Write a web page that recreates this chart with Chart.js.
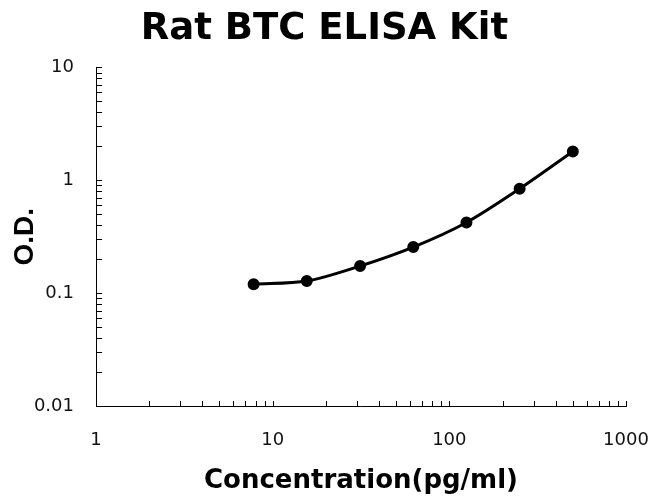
<!DOCTYPE html>
<html>
<head>
<meta charset="utf-8">
<script src="https://cdn.jsdelivr.net/npm/chart.js@4/dist/chart.umd.min.js"></script>
<style>
html,body{margin:0;padding:0;background:#fff;}
#wrap{width:649px;height:497px;}
</style>
</head>
<body>
<div id="wrap"><canvas id="c" width="649" height="497"></canvas></div>
<script>
const titleText = "Rat BTC ELISA Kit";
const xTitle = "Concentration(pg/ml)";
const yTitle = "O.D.";
const concentrations = [7.8, 15.6, 31.25, 62.5, 125, 250, 500];
const odValues = [0.120, 0.128, 0.174, 0.256, 0.423, 0.842, 1.80];
const xTickLabels = [1, 10, 100, 1000];
const yTickLabels = [0.01, 0.1, 1, 10];

const WIDE = "'DejaVu Sans', Verdana, sans-serif";
const ARIAL = "'Liberation Sans', Arial, sans-serif";

function minorValues(labels){
  const out = [];
  for (let i = 0; i < labels.length; i++) {
    out.push(labels[i]);
    if (i < labels.length - 1) {
      for (let m = 2; m <= 9; m++) out.push(+(labels[i] * m).toPrecision(6));
    }
  }
  return out;
}

const innerTicks = {
  id: 'innerTicks',
  afterDraw(chart){
    const ctx = chart.ctx;
    const xs = chart.scales.x, ys = chart.scales.y;
    const area = chart.chartArea;
    ctx.save();
    ctx.strokeStyle = '#000';
    ctx.lineWidth = 1;
    ctx.beginPath();
    minorValues(xTickLabels).forEach(v => {
      const px = Math.round(xs.getPixelForValue(v)) + 0.5;
      ctx.moveTo(px, area.bottom);
      ctx.lineTo(px, area.bottom - 5);
    });
    minorValues(yTickLabels).forEach(v => {
      const py = Math.round(ys.getPixelForValue(v)) + 0.5;
      ctx.moveTo(area.left, py);
      ctx.lineTo(area.left + 6, py);
    });
    ctx.stroke();
    ctx.restore();
  }
};

new Chart(document.getElementById('c'), {
  type: 'line',
  data: {
    datasets: [{
      data: concentrations.map((c, i) => ({x: c, y: odValues[i]})),
      borderColor: '#000',
      backgroundColor: '#000',
      borderWidth: 3,
      pointRadius: 4.5,
      pointHoverRadius: 4.5,
      tension: 0.3,
      fill: false
    }]
  },
  options: {
    responsive: false,
    animation: false,
    layout: {padding: {left: 0, right: 0, top: 0, bottom: 0}},
    plugins: {
      legend: {display: false},
      tooltip: {enabled: false},
      title: {
        display: true,
        text: titleText,
        color: '#000',
        font: {family: WIDE, size: 37, weight: 'bold', lineHeight: 1.2},
        padding: {top: 7, bottom: 16}
      }
    },
    scales: {
      x: {
        type: 'logarithmic',
        min: 1, max: 1000,
        afterBuildTicks(scale){ scale.ticks = xTickLabels.map(v => ({value: v})); },
        afterFit(scale){ scale.height = 91; scale.paddingRight = 23; scale.paddingLeft = 0; },
        grid: {display: true, drawOnChartArea: false, drawTicks: false},
        border: {display: true, color: '#000', width: 1},
        ticks: {
          color: '#111', padding: 24, maxRotation: 0, autoSkip: false,
          font: {family: WIDE, size: 18},
          callback: v => String(v)
        },
        title: {
          display: true, text: xTitle, color: '#000',
          font: {family: WIDE, size: 26, weight: 'bold'},
          padding: {top: 0, bottom: 0}
        }
      },
      y: {
        type: 'logarithmic',
        min: 0.01, max: 10,
        afterBuildTicks(scale){ scale.ticks = yTickLabels.map(v => ({value: v})); },
        afterFit(scale){ scale.width = 96; },
        grid: {display: true, drawOnChartArea: false, drawTicks: false},
        border: {display: true, color: '#000', width: 1},
        ticks: {
          color: '#111', padding: 22, autoSkip: false,
          font: {family: WIDE, size: 18},
          callback: v => String(v)
        },
        title: {
          display: true, text: yTitle, color: '#000',
          font: {family: ARIAL, size: 28, weight: 'bold'},
          padding: {top: 8, bottom: 0}
        }
      }
    }
  },
  plugins: [innerTicks]
});
</script>
</body>
</html>
